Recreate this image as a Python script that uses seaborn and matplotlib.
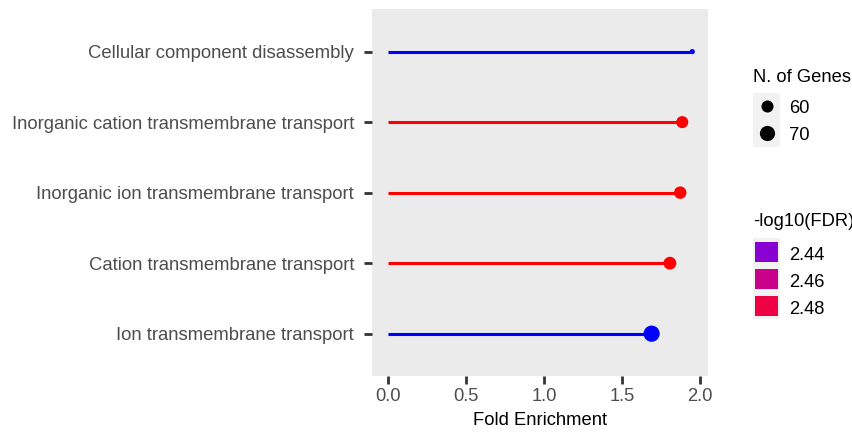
import numpy as np
import pandas as pd
import matplotlib
matplotlib.use("Agg")
import matplotlib.pyplot as plt
import seaborn as sns
from matplotlib.colors import ListedColormap, Normalize
from matplotlib.patches import Rectangle

# GO terms (top to bottom) and their enrichment statistics
terms = [
    "Cellular component disassembly",
    "Inorganic cation transmembrane transport",
    "Inorganic ion transmembrane transport",
    "Cation transmembrane transport",
    "Ion transmembrane transport",
]
fold_enrichment = [1.949, 1.885, 1.872, 1.806, 1.689]
n_genes = [51, 60, 61, 62, 74]
neg_log10_fdr = [2.428, 2.493, 2.493, 2.493, 2.428]

size_breaks = [60, 70]
color_breaks = [2.44, 2.46, 2.48]
x_ticks = [0.0, 0.5, 1.0, 1.5, 2.0]

W, H, DPI = 852, 436, 100
FONT = "Liberation Sans"
plt.rcParams["font.family"] = [FONT, "DejaVu Sans"]

df = pd.DataFrame({
    "term": terms,
    "fold": fold_enrichment,
    "genes": n_genes,
    "fdr": neg_log10_fdr,
})


# ---- blue -> red gradient interpolated in CIELAB -------------------------
def _srgb_to_lab(rgb):
    c = np.asarray(rgb, float)
    lin = np.where(c <= 0.04045, c / 12.92, ((c + 0.055) / 1.055) ** 2.4)
    m = np.array([[0.4124, 0.3576, 0.1805],
                  [0.2126, 0.7152, 0.0722],
                  [0.0193, 0.1192, 0.9505]])
    xyz = m @ lin / np.array([0.95047, 1.0, 1.08883])
    f = np.where(xyz > 0.008856, np.cbrt(xyz), 7.787 * xyz + 16 / 116)
    return np.array([116 * f[1] - 16, 500 * (f[0] - f[1]), 200 * (f[1] - f[2])])


def _lab_to_srgb(lab):
    L, a, b = lab
    fy = (L + 16) / 116
    fx = fy + a / 500
    fz = fy - b / 200
    f = np.array([fx, fy, fz])
    xyz = np.where(f ** 3 > 0.008856, f ** 3, (f - 16 / 116) / 7.787)
    xyz = xyz * np.array([0.95047, 1.0, 1.08883])
    minv = np.array([[3.2406, -1.5372, -0.4986],
                     [-0.9689, 1.8758, 0.0415],
                     [0.0557, -0.2040, 1.0570]])
    lin = minv @ xyz
    lin = np.clip(lin, 0, 1)
    c = np.where(lin <= 0.0031308, 12.92 * lin, 1.055 * lin ** (1 / 2.4) - 0.055)
    return np.clip(c, 0, 1)


lab_lo = _srgb_to_lab([0, 0, 1])
lab_hi = _srgb_to_lab([1, 0, 0])
cmap = ListedColormap([_lab_to_srgb(lab_lo + t * (lab_hi - lab_lo))
                       for t in np.linspace(0, 1, 256)])
norm = Normalize(vmin=min(neg_log10_fdr), vmax=max(neg_log10_fdr))


# ---- point size scale: diameter grows with sqrt of rescaled count --------
g_lo, g_hi = min(n_genes), max(n_genes)


def point_area(g):
    t = (g - g_lo) / (g_hi - g_lo)
    d_px = 2.2 * (1 + 5 * np.sqrt(t)) + 3.0
    d_pt = d_px * 72 / DPI
    return d_pt ** 2


size_map = {g: point_area(g) for g in n_genes}

# ---- figure --------------------------------------------------------------
fig = plt.figure(figsize=(W / DPI, H / DPI), dpi=DPI)
px = lambda x0, y0, x1, y1: [x0 / W, 1 - y1 / H, (x1 - x0) / W, (y1 - y0) / H]
ax = fig.add_axes(px(372.3, 9.3, 707.5, 376))
ax.set_facecolor("#EBEBEB")

sns.scatterplot(data=df, x="fold", y="term", hue="fdr", hue_norm=norm,
                palette=cmap, size="genes", sizes=size_map, linewidth=0,
                legend=False, ax=ax, zorder=3)
ax.hlines(y=df["term"], xmin=0, xmax=df["fold"],
          colors=[cmap(norm(v)) for v in df["fdr"]], lw=2.2, zorder=2)

xmax = max(fold_enrichment)
ax.set_xlim(-0.05 * xmax, 1.05 * xmax)
ax.set_ylim(len(terms) - 1 + 0.6, -0.6)
ax.set_xticks(x_ticks)
ax.set_xticklabels([f"{v:.1f}" for v in x_ticks])
for s in ax.spines.values():
    s.set_visible(False)
ax.grid(False)
ax.tick_params(axis="both", colors="#333333", length=5.5, width=2.0,
               labelcolor="#4D4D4D", labelsize=13.2)
ax.tick_params(axis="y", pad=7.5, labelsize=13.35)
ax.tick_params(axis="x", pad=3)
ax.set_xlabel("")
ax.set_ylabel("")
fig.text(539.8 / W, 1 - 425 / H, "Fold Enrichment", ha="center",
         va="baseline", fontsize=13.2, color="black")

# ---- legends (drawn in pixel space) --------------------------------------
lg = fig.add_axes([0, 0, 1, 1])
lg.set_xlim(0, W)
lg.set_ylim(H, 0)
lg.axis("off")

lg.text(753, 82, "N. of Genes", fontsize=13.2, va="baseline", ha="left")
for i, g in enumerate(size_breaks):
    y0 = 93 + 27 * i
    lg.add_patch(Rectangle((753, y0), 27, 27, color="#F2F2F2", lw=0))
    lg.scatter([766.5], [y0 + 13.5], s=point_area(g), color="black", lw=0)
    lg.text(789, y0 + 20, str(g), fontsize=13.2, va="baseline", ha="left")

lg.text(753, 226, "-log10(FDR)", fontsize=13.2, va="baseline", ha="left")
for i, v in enumerate(color_breaks):
    y0 = 238 + 27 * i
    lg.add_patch(Rectangle((753, y0), 27, 27, color="#F2F2F2", lw=0))
    lg.add_patch(Rectangle((755, y0 + 3.5), 23, 20, color=cmap(norm(v)), lw=0))
    lg.text(789, y0 + 22, f"{v:.2f}", fontsize=13.2, va="baseline", ha="left")

fig.savefig("out.png", dpi=DPI)
